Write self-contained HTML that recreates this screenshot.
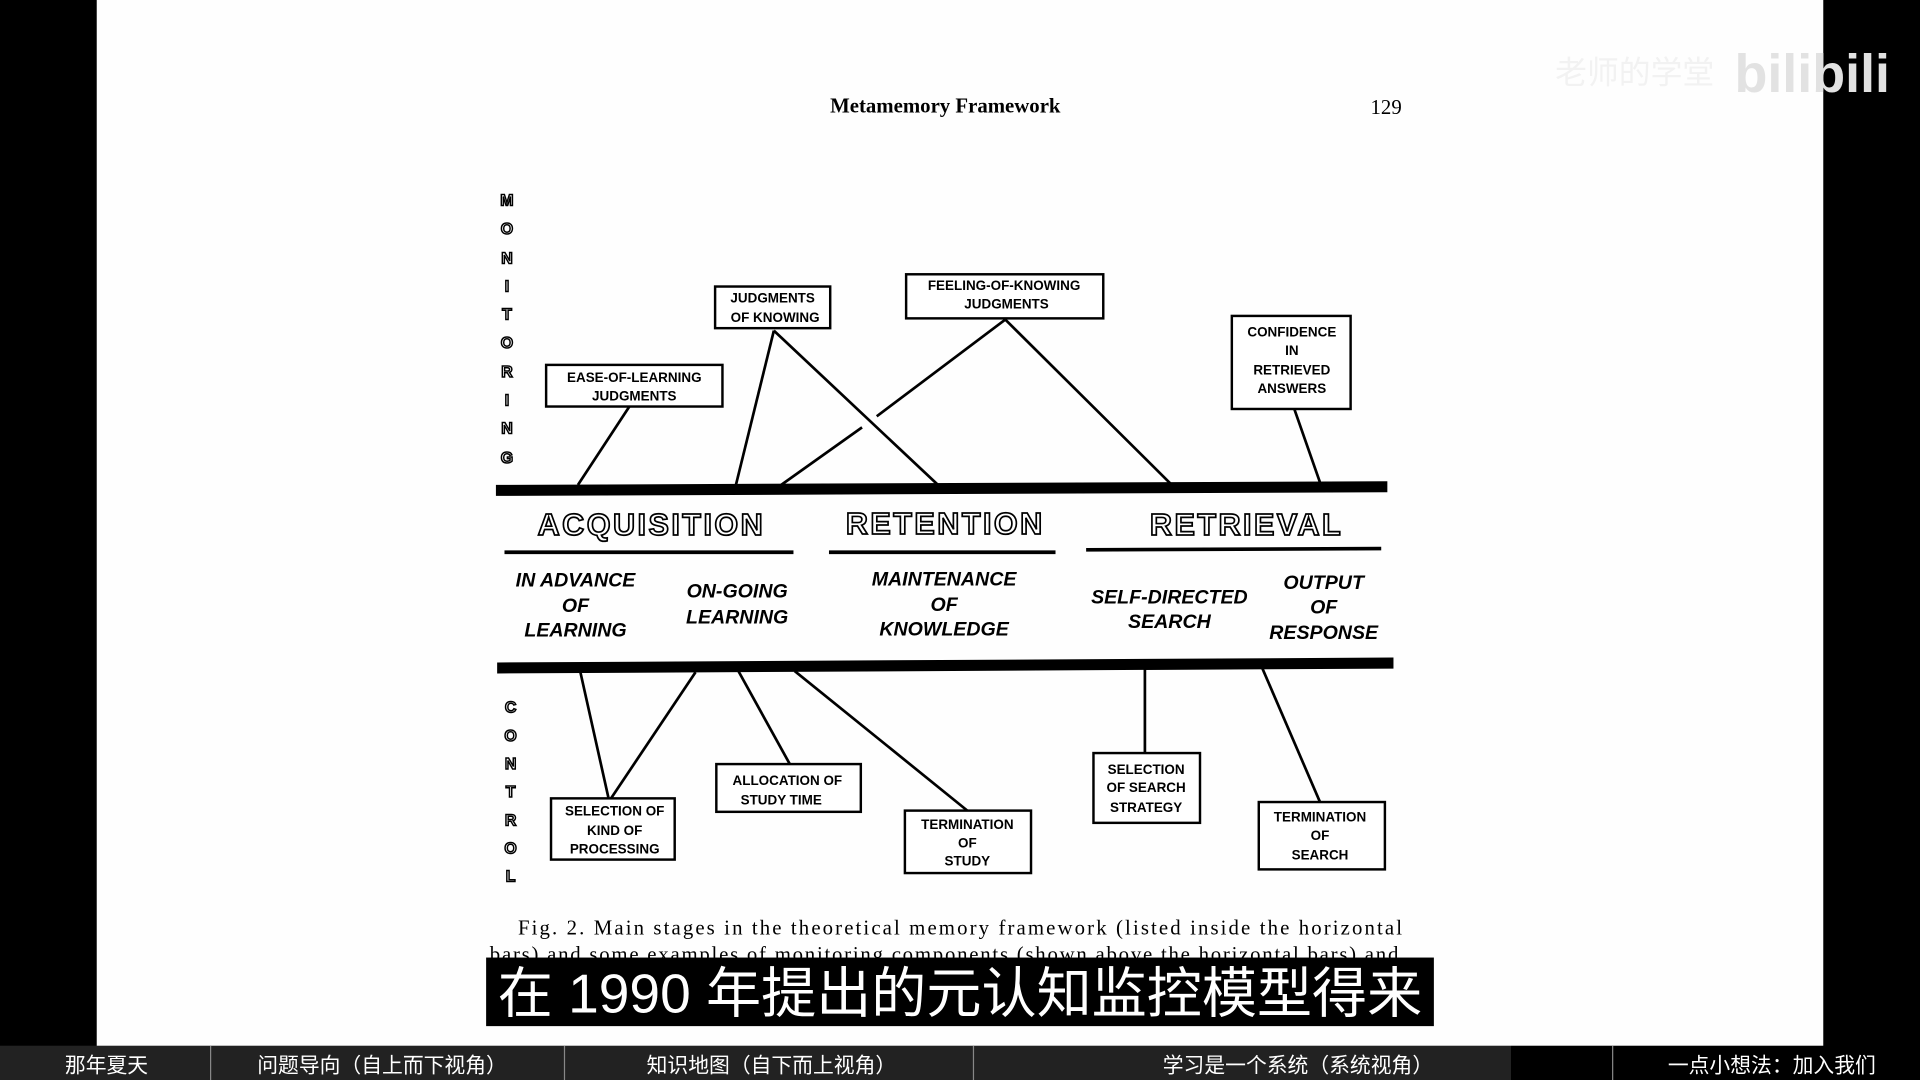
<!DOCTYPE html>
<html><head><meta charset="utf-8"><style>
html,body{margin:0;padding:0;background:#000;width:1920px;height:1080px;overflow:hidden}
svg{display:block}
.b{font-family:"Liberation Sans",sans-serif;font-weight:bold;font-size:11px;fill:#000;text-anchor:middle}
.i{font-family:"Liberation Sans",sans-serif;font-weight:bold;font-style:italic;font-size:16px;fill:#000;text-anchor:middle}
.h{font-family:"Liberation Sans",sans-serif;font-size:25px;fill:#fff;stroke:#000;stroke-width:1.4;text-anchor:middle;letter-spacing:2px;font-weight:bold}
.v{font-family:"Liberation Sans",sans-serif;font-size:13px;fill:#fff;stroke:#000;stroke-width:1.2;text-anchor:middle;font-weight:bold}
.z{font-family:"Liberation Sans","Noto Sans CJK SC",sans-serif;fill:#fff;font-size:17px;text-anchor:middle}
</style></head><body>
<svg width="1920" height="1080" viewBox="0 0 1568 882" xmlns="http://www.w3.org/2000/svg">
<rect width="1568" height="882" fill="#000"/>
<rect x="79" y="0" width="1410" height="855" fill="#fefefe"/>
<text x="772" y="92" font-family="Liberation Serif,serif" font-weight="bold" font-size="17" text-anchor="middle">Metamemory Framework</text>
<text x="1132" y="93" font-family="Liberation Serif,serif" font-size="17" text-anchor="middle">129</text>
<text x="1335" y="68" font-family="Noto Sans CJK SC,sans-serif" font-size="26" text-anchor="middle" fill="#f2f2f2">老师的学堂</text>
<text x="1480" y="75" font-family="Liberation Sans,sans-serif" font-weight="bold" font-size="44" text-anchor="middle" fill="#e2e2e2">bilibili</text>
<g>
<text class="v" x="414" y="168">M</text><text class="v" x="414" y="191">O</text><text class="v" x="414" y="215">N</text><text class="v" x="414" y="238">I</text><text class="v" x="414" y="261">T</text><text class="v" x="414" y="284">O</text><text class="v" x="414" y="308">R</text><text class="v" x="414" y="331">I</text><text class="v" x="414" y="354">N</text><text class="v" x="414" y="378">G</text>
<text class="v" x="417" y="582">C</text><text class="v" x="417" y="605">O</text><text class="v" x="417" y="628">N</text><text class="v" x="417" y="651">T</text><text class="v" x="417" y="674">R</text><text class="v" x="417" y="697">O</text><text class="v" x="417" y="720">L</text>
</g>
<polygon points="405,396 1133,393 1133,402 405,405" fill="#000"/>
<polygon points="406,541 1138,537 1138,546 406,550" fill="#000"/>
<line x1="412" y1="451" x2="648" y2="451" stroke="#000" stroke-width="3"/>
<line x1="677" y1="451" x2="862" y2="451" stroke="#000" stroke-width="3"/>
<line x1="887" y1="449" x2="1128" y2="448" stroke="#000" stroke-width="3"/>
<text class="h" x="532" y="437">ACQUISITION</text>
<text class="h" x="772" y="436">RETENTION</text>
<text class="h" x="1018" y="437">RETRIEVAL</text>
<text class="i" x="470" y="479">IN ADVANCE</text><text class="i" x="470" y="500">OF</text><text class="i" x="470" y="520">LEARNING</text>
<text class="i" x="602" y="488">ON-GOING</text><text class="i" x="602" y="509">LEARNING</text>
<text class="i" x="771" y="478">MAINTENANCE</text><text class="i" x="771" y="499">OF</text><text class="i" x="771" y="519">KNOWLEDGE</text>
<text class="i" x="955" y="493">SELF-DIRECTED</text><text class="i" x="955" y="513">SEARCH</text>
<text class="i" x="1081" y="481">OUTPUT</text><text class="i" x="1081" y="501">OF</text><text class="i" x="1081" y="522">RESPONSE</text>
<g stroke="#000" stroke-width="2.2" fill="none">
<line x1="514" y1="332" x2="472" y2="396"/>
<line x1="632" y1="270" x2="601" y2="396"/>
<line x1="632" y1="270" x2="766" y2="396"/>
<line x1="821" y1="261" x2="716" y2="340"/>
<line x1="704" y1="349" x2="638" y2="396"/>
<line x1="821" y1="261" x2="957" y2="396"/>
<line x1="1057" y1="334" x2="1078" y2="394"/>
<line x1="474" y1="549" x2="497" y2="652"/>
<line x1="568" y1="549" x2="499" y2="652"/>
<line x1="603" y1="548" x2="645" y2="624"/>
<line x1="649" y1="548" x2="790" y2="662"/>
<line x1="935" y1="546" x2="935" y2="615"/>
<line x1="1031" y1="546" x2="1078" y2="655"/>
</g>
<g fill="#fff" stroke="#000" stroke-width="2">
<rect x="446" y="298" width="144" height="34"/>
<rect x="584" y="234" width="94" height="34"/>
<rect x="740" y="224" width="161" height="36"/>
<rect x="1006" y="258" width="97" height="76"/>
<rect x="450" y="652" width="101" height="50"/>
<rect x="585" y="624" width="118" height="39"/>
<rect x="739" y="662" width="103" height="51"/>
<rect x="893" y="615" width="87" height="57"/>
<rect x="1028" y="655" width="103" height="55"/>
</g>
<text class="b" x="518" y="312">EASE-OF-LEARNING</text><text class="b" x="518" y="327">JUDGMENTS</text>
<text class="b" x="631" y="247">JUDGMENTS</text><text class="b" x="633" y="263">OF KNOWING</text>
<text class="b" x="820" y="237">FEELING-OF-KNOWING</text><text class="b" x="822" y="252">JUDGMENTS</text>
<text class="b" x="1055" y="275">CONFIDENCE</text><text class="b" x="1055" y="290">IN</text><text class="b" x="1055" y="306">RETRIEVED</text><text class="b" x="1055" y="321">ANSWERS</text>
<text class="b" x="502" y="666">SELECTION OF</text><text class="b" x="502" y="682">KIND OF</text><text class="b" x="502" y="697">PROCESSING</text>
<text class="b" x="643" y="641">ALLOCATION OF</text><text class="b" x="638" y="657">STUDY TIME</text>
<text class="b" x="790" y="677">TERMINATION</text><text class="b" x="790" y="692">OF</text><text class="b" x="790" y="707">STUDY</text>
<text class="b" x="936" y="632">SELECTION</text><text class="b" x="936" y="647">OF SEARCH</text><text class="b" x="936" y="663">STRATEGY</text>
<text class="b" x="1078" y="671">TERMINATION</text><text class="b" x="1078" y="686">OF</text><text class="b" x="1078" y="702">SEARCH</text>
<text x="784" y="763" font-family="Liberation Serif,serif" font-size="17" text-anchor="middle" textLength="722">Fig. 2.   Main stages in the theoretical memory framework (listed inside the horizontal</text>
<text x="771" y="785" font-family="Liberation Serif,serif" font-size="17" text-anchor="middle" textLength="742">bars) and some examples of monitoring components (shown above the horizontal bars) and</text>
<rect x="397" y="782" width="774" height="56" fill="#000"/>
<text x="784" y="827" font-family="Liberation Sans,Noto Sans CJK SC,sans-serif" font-size="45" fill="#fff" text-anchor="middle">在 1990 年提出的元认知监控模型得来</text>
<rect x="0" y="854" width="1234" height="28" fill="#222"/>
<rect x="1234" y="854" width="334" height="28" fill="#000"/>
<g stroke="#888" stroke-width="1"><line x1="172" y1="854" x2="172" y2="882"/><line x1="461" y1="854" x2="461" y2="882"/><line x1="795" y1="854" x2="795" y2="882"/><line x1="1317" y1="854" x2="1317" y2="882"/></g>
<text class="z" x="87" y="876">那年夏天</text>
<text class="z" x="312" y="876">问题导向（自上而下视角）</text>
<text class="z" x="630" y="876">知识地图（自下而上视角）</text>
<text class="z" x="1060" y="876">学习是一个系统（系统视角）</text>
<text class="z" x="1447" y="876">一点小想法：加入我们</text>
</svg>
</body></html>
